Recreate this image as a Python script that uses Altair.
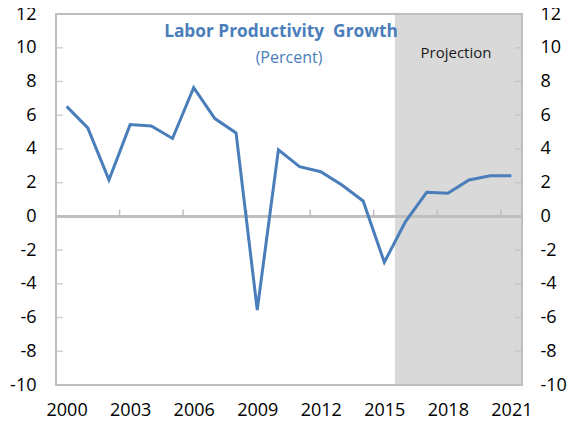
import altair as alt
import pandas as pd

years = list(range(2000, 2022))
growth = [6.52, 5.25, 2.16, 5.44, 5.36, 4.62, 7.63, 5.80, 4.95, -5.55, 3.94,
          2.95, 2.65, 1.86, 0.91, -2.72, -0.31, 1.43, 1.37, 2.16, 2.41, 2.41]
x_labels = [2000, 2003, 2006, 2009, 2012, 2015, 2018, 2021]
y_ticks = list(range(-10, 13, 2))
x_minor_ticks = [2002.5, 2005.5, 2008.5, 2011.5, 2014.5, 2017.5, 2020.5]
proj_start, proj_end = 2015.5, 2021.5
x_domain = [1999.5, 2021.5]
y_domain = [-10, 12]

W, H = 466, 371
FONT = "Open Sans"
BLUE = "#4A7EBB"
GRAY = "#BFBFBF"
HYPHEN_LABEL = "datum.value < 0 ? '-' + abs(datum.value) : '' + datum.value"

df = pd.DataFrame({"year": years, "growth": growth})
df_y = pd.DataFrame({"v": y_ticks})
df_xt = pd.DataFrame({"x": x_minor_ticks})
df_proj = pd.DataFrame({"x0": [proj_start], "x1": [proj_end], "y0": [y_domain[0]], "y1": [y_domain[1]]})

xs = alt.Scale(domain=x_domain, nice=False, zero=False)
ys = alt.Scale(domain=y_domain, nice=False, zero=False)

shade = alt.Chart(df_proj).mark_rect(color="#D9D9D9").encode(
    x=alt.X("x0:Q", scale=xs, axis=None),
    x2="x1:Q",
    y=alt.Y("y0:Q", scale=ys, axis=None),
    y2="y1:Q",
)

zero_line = alt.Chart(df_y).mark_rule(color=GRAY, strokeWidth=2).encode(
    x=alt.value(0), x2=alt.value(W),
    y=alt.Y(datum=0, scale=ys, axis=None),
)

xticks = alt.Chart(df_xt).mark_rule(color=GRAY, strokeWidth=1.5).encode(
    x=alt.X("x:Q", scale=xs, axis=None),
    y=alt.Y(datum=0, scale=ys, axis=None),
    y2=alt.Y2(datum=0.4),
)

line = alt.Chart(df).mark_line(color=BLUE, strokeWidth=3).encode(
    x=alt.X("year:Q", scale=xs, title=None,
            axis=alt.Axis(values=x_labels, format="d", ticks=False, domain=False, grid=False,
                          labelFontSize=18, labelFont=FONT, labelColor="#000000",
                          labelPadding=16, labelFlush=False)),
    y=alt.Y("growth:Q", scale=ys, axis=None),
)

frame = alt.Chart(df_y).mark_rect(filled=False, stroke=GRAY, strokeWidth=1.5).encode(
    x=alt.value(0), x2=alt.value(W), y=alt.value(0), y2=alt.value(H),
)

left_ticks = alt.Chart(df_y).mark_tick(color=GRAY, size=7, thickness=1.5).encode(
    x=alt.value(3.5),
    y=alt.Y("v:Q", scale=ys, title=None,
            axis=alt.Axis(orient="left", values=y_ticks, ticks=False, domain=False, grid=False,
                          labelExpr=HYPHEN_LABEL,
                          labelFontSize=18, labelFont=FONT, labelColor="#000000",
                          labelPadding=20)),
)

right_ticks = alt.Chart(df_y).mark_tick(color=GRAY, size=7, thickness=1.5).encode(
    x=alt.value(W - 3.5),
    y=alt.Y("v:Q", scale=ys, title=None,
            axis=alt.Axis(orient="right", values=y_ticks, ticks=False, domain=False, grid=False,
                          labelExpr=HYPHEN_LABEL,
                          labelFontSize=18, labelFont=FONT, labelColor="#000000",
                          labelPadding=18)),
)

title = alt.Chart(df_proj).mark_text(
    text="Labor Productivity\u00a0 Growth", font=FONT, fontSize=17.3, fontWeight="bold",
    color=BLUE, align="center", baseline="alphabetic",
).encode(x=alt.value(225), y=alt.value(23))

subtitle = alt.Chart(df_proj).mark_text(
    text="(Percent)", font=FONT, fontSize=16, color=BLUE, align="center", baseline="alphabetic",
).encode(x=alt.value(233), y=alt.value(49))

proj_label = alt.Chart(df_proj).mark_text(
    text="Projection", font=FONT, fontSize=15, color="#1a1a1a", align="center", baseline="alphabetic",
).encode(x=alt.value(400), y=alt.value(44))

chart = alt.layer(
    shade, zero_line, xticks, frame, left_ticks, right_ticks, line, title, subtitle, proj_label
).resolve_axis(x="independent", y="independent").properties(
    width=W, height=H,
    autosize=alt.AutoSizeParams(type="none"),
    padding={"left": 48, "top": 6, "right": 45, "bottom": 36},
).configure_view(strokeWidth=0)

chart.save("out.html", embed_options={"renderer": "svg", "actions": False})
